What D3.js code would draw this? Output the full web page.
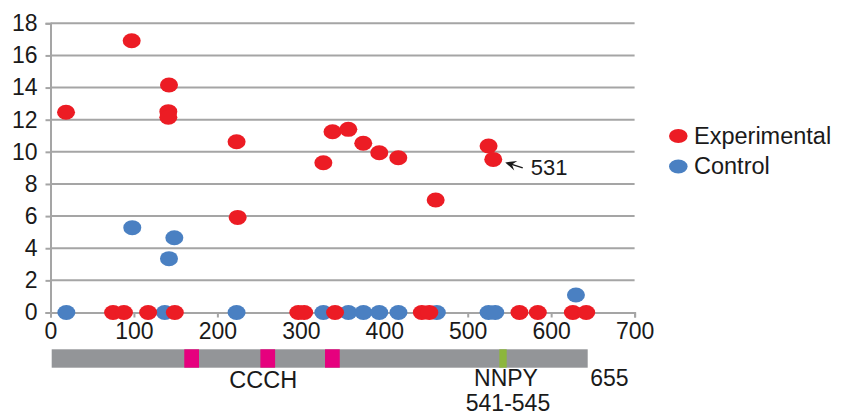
<!DOCTYPE html>
<html>
<head>
<meta charset="utf-8">
<script src="https://cdn.jsdelivr.net/npm/d3@7"></script>
<style>
  body { margin: 0; background: #fff; }
  text { font-family: "Liberation Sans", Arial, sans-serif; fill: #1a1a1a; }
</style>
</head>
<body>
<div id="chart"></div>
<script>
// position along the protein (aa) and value for each hit
const expX = [18.6, 97.3, 142, 141.2, 141.2, 223, 224.3, 327, 338, 356.9, 374.8, 394, 416.8, 461.6, 525, 530.6,
              75, 88, 117, 149, 297, 304, 341, 445, 454, 562, 584, 626, 642];
const expY = [12.46, 16.91, 14.16, 12.5, 12.15, 10.63, 5.92, 9.32, 11.25, 11.4, 10.53, 9.94, 9.63, 7.0, 10.36, 9.53,
              0, 0, 0, 0, 0, 0, 0, 0, 0, 0, 0, 0, 0];
const ctlX = [98, 148.4, 142, 629.7,
              19, 137, 223, 327, 357, 375, 394, 417, 463, 525, 533];
const ctlY = [5.28, 4.65, 3.35, 1.09,
              0, 0, 0, 0, 0, 0, 0, 0, 0, 0, 0];

const xTicks = [0, 100, 200, 300, 400, 500, 600, 700];
const yTicks = [0, 2, 4, 6, 8, 10, 12, 14, 16, 18];

const seriesNames = ["Experimental", "Control"];
const seriesColors = ["#ec1c24", "#4a80c2"];

// protein diagram
const proteinLength = 655;
const ccchDomains = [[162, 180], [255, 273], [334, 352]];
const nnpyMotif = [547, 556];

const width = 842, height = 416;
const svg = d3.select("#chart").append("svg")
    .attr("width", width)
    .attr("height", height);

const x = d3.scaleLinear().domain([0, 700]).range([50.5, 634.6]);
const y = d3.scaleLinear().domain([0, 18]).range([312.5, 23.3]);

//gridlines
svg.append("g").selectAll("line")
    .data(yTicks.filter(d => d > 0))
    .enter().append("line")
    .attr("x1", x(0)).attr("x2", x(700))
    .attr("y1", d => y(d)).attr("y2", d => y(d))
    .attr("stroke", "#a5a5a5").attr("stroke-width", 2);

const yAxis = svg.append("g")
    .attr("transform", "translate(" + x(0) + ",0)")
    .call(d3.axisLeft(y).tickValues(yTicks).tickSize(5).tickPadding(8));
const xAxis = svg.append("g")
    .attr("transform", "translate(0," + y(0) + ")")
    .call(d3.axisBottom(x).tickValues(xTicks).tickSize(5).tickPadding(5));

[xAxis, yAxis].forEach(function (a) {
    a.select(".domain").attr("stroke", "#a5a5a5").attr("stroke-width", 2);
    a.selectAll(".tick line").attr("stroke", "#a5a5a5").attr("stroke-width", 2);
    a.selectAll(".tick text")
        .style("font-family", "Liberation Sans, Arial, sans-serif")
        .style("font-size", "23px")
        .attr("fill", "#1a1a1a");
});

// control first so experimental sits on top
const ctl = ctlX.map((v, i) => ({x: v, y: ctlY[i]}));
const exp = expX.map((v, i) => ({x: v, y: expY[i]}));

svg.append("g").selectAll("ellipse")
    .data(ctl)
    .enter().append("ellipse")
    .attr("cx", d => x(d.x)).attr("cy", d => y(d.y))
    .attr("rx", 9).attr("ry", 7.5)
    .attr("fill", seriesColors[1]);

svg.append("g").selectAll("ellipse")
    .data(exp)
    .enter().append("ellipse")
    .attr("cx", d => x(d.x)).attr("cy", d => y(d.y))
    .attr("rx", 9).attr("ry", 7.5)
    .attr("fill", seriesColors[0]);

// 531 annotation
const px = x(530.6), py = y(9.53);
const ax1 = px + 12, ay1 = py + 3, ax2 = px + 29.5, ay2 = py + 8.5;
svg.append("line")
    .attr("x1", ax1 + 5).attr("y1", ay1 + 1.5)
    .attr("x2", ax2).attr("y2", ay2)
    .attr("stroke", "#1a1a1a").attr("stroke-width", 1.5);
const ang = Math.atan2(ay2 - ay1, ax2 - ax1);
function rot(dx, dy) {
    return [ax1 + dx * Math.cos(ang) - dy * Math.sin(ang), ay1 + dx * Math.sin(ang) + dy * Math.cos(ang)];
}
svg.append("path")
    .attr("d", "M" + rot(0, 0) + "L" + rot(11, -5) + "L" + rot(7, 0) + "L" + rot(11, 5) + "Z")
    .attr("fill", "#1a1a1a");
svg.append("text")
    .attr("x", px + 37.5).attr("y", py + 16)
    .style("font-size", "22px")
    .text("531");

// legend
const legend = svg.append("g");
seriesNames.forEach(function (name, i) {
    legend.append("ellipse")
        .attr("cx", 678.3).attr("cy", 136 + i * 30.5)
        .attr("rx", 9.3).attr("ry", 7)
        .attr("fill", seriesColors[i]);
    legend.append("text")
        .attr("x", 694).attr("y", 143.5 + i * 30.5)
        .style("font-size", "23.5px")
        .text(name);
});

// protein bar
const bx = d3.scaleLinear().domain([0, proteinLength]).range([51.7, 587.7]);
const barTop = 349.3, barH = 18.4;
svg.append("rect")
    .attr("x", bx(0)).attr("y", barTop)
    .attr("width", bx(proteinLength) - bx(0)).attr("height", barH)
    .attr("fill", "#939598");
svg.append("g").selectAll("rect")
    .data(ccchDomains)
    .enter().append("rect")
    .attr("x", d => bx(d[0])).attr("y", barTop)
    .attr("width", d => bx(d[1]) - bx(d[0])).attr("height", barH)
    .attr("fill", "#e6007e");
svg.append("rect")
    .attr("x", bx(nnpyMotif[0])).attr("y", barTop)
    .attr("width", bx(nnpyMotif[1]) - bx(nnpyMotif[0])).attr("height", barH)
    .attr("fill", "#8cb63c");

svg.append("text")
    .attr("x", bx((ccchDomains[1][0] + ccchDomains[1][1]) / 2) - 4.5).attr("y", 388)
    .attr("text-anchor", "middle")
    .style("font-size", "23.5px")
    .text("CCCH");
svg.append("text")
    .attr("x", bx((nnpyMotif[0] + nnpyMotif[1]) / 2) + 3).attr("y", 385.5)
    .attr("text-anchor", "middle")
    .style("font-size", "23px")
    .text("NNPY");
svg.append("text")
    .attr("x", bx((nnpyMotif[0] + nnpyMotif[1]) / 2) + 5).attr("y", 410.5)
    .attr("text-anchor", "middle")
    .style("font-size", "23px")
    .text("541-545");
svg.append("text")
    .attr("x", bx(proteinLength) + 2.5).attr("y", 385.5)
    .style("font-size", "23px")
    .text(proteinLength);
</script>
</body>
</html>
